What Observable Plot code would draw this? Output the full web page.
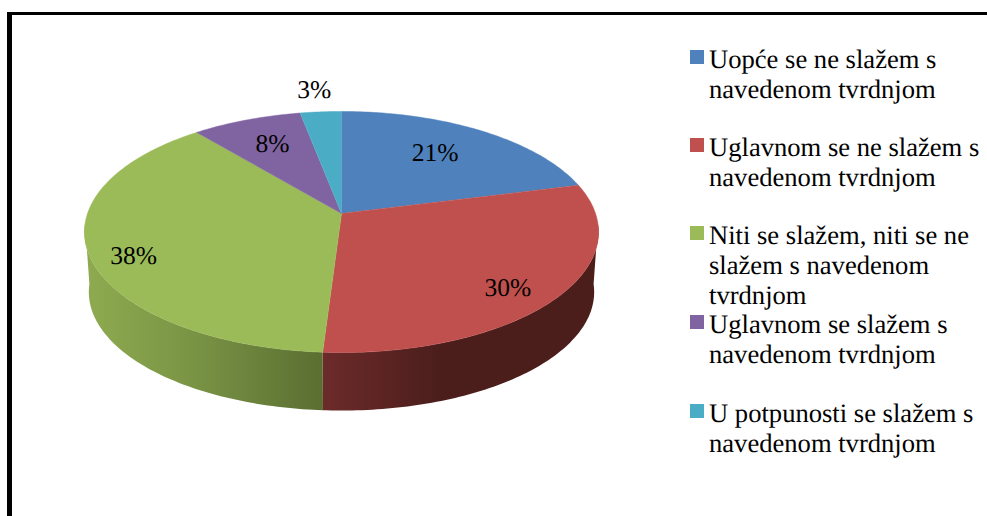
<!DOCTYPE html>
<html><head><meta charset="utf-8">
<script src="https://cdn.jsdelivr.net/npm/d3@7"></script>
<script src="https://cdn.jsdelivr.net/npm/@observablehq/plot@0.6"></script>
<style>
html,body{margin:0;padding:0;background:#fff;width:987px;height:516px;overflow:hidden;text-rendering:geometricPrecision}
#frame{position:absolute;left:7px;top:12px;right:0;bottom:0;border-top:3px solid #000;border-left:5px solid #000}
#chart{position:absolute;left:0;top:0}
.item{position:absolute;left:690px;font:26.6px/29.8px "Liberation Serif","Times New Roman",serif;color:#000;white-space:pre}
.item i{position:absolute;left:0;top:5px;width:14px;height:14px}
.item span{display:block;margin-left:19px}
</style></head><body>
<div id="chart"></div><div id="frame"></div>
<script>
// Data
const categories = ["Uopće se ne slažem s\nnavedenom tvrdnjom","Uglavnom se ne slažem s\nnavedenom tvrdnjom","Niti se slažem, niti se ne\nslažem s navedenom\ntvrdnjom","Uglavnom se slažem s\nnavedenom tvrdnjom","U potpunosti se slažem s\nnavedenom tvrdnjom"];
const values = [21,30,38,8,3];
const colors = ["#4f81bd","#c0504d","#9bbb59","#8064a2","#4bacc6"];

// Layout: tilted-disc perspective and label placement
const persp = 0.1535, baseScale = 0.983, baseDrop = 0.513;
const labelRadius = [0.69,0.83,0.846,0.72,1.262];
const labelAngle = [35.5,134,246.5,335.5,354.2];
const legendTop = [45,133,221,310,399];

const project = (deg,r=1) => {
  const t = deg*Math.PI/180, u = r*Math.sin(t), v = -r*Math.cos(t), s = 1/(1-persp*v);
  return {x:u*s, y:v*s};
};
const total = d3.sum(values);
const cum = d3.cumsum(values);
const slices = values.map((v,i)=>({name:categories[i],a0:(cum[i]-v)/total*360,a1:cum[i]/total*360}));

const topFace = slices.flatMap(s=>{
  const n = Math.ceil(s.a1-s.a0);
  return [{name:s.name,x:0,y:0},
    ...d3.range(n+1).map(k=>({name:s.name,...project(s.a0+(s.a1-s.a0)*k/n)}))];
});
const wall = (a0,a1)=>{
  const as = d3.range(a0,a1,1).concat(a1);
  const upper = as.map(a=>project(a));
  const lower = as.map(a=>{const p=project(a);return {x:p.x*baseScale,y:p.y*baseScale+baseDrop};}).reverse();
  return upper.concat(lower);
};
const split = slices[1].a1;

const defs = () => {
  const g = d3.create("svg:defs");
  const grad = (id,stops)=>{
    const lg = g.append("linearGradient").attr("id",id).attr("x1",0).attr("x2",1).attr("y1",0).attr("y2",0);
    stops.forEach(([o,c])=>lg.append("stop").attr("offset",o).attr("stop-color",c));
  };
  grad("wallRed",[[0,"#6c2b2a"],[0.42,"#4b1e1c"],[1,"#4b1e1c"]]);
  grad("wallGreen",[[0,"#8fab50"],[0.45,"#7a9445"],[1,"#5a6e31"]]);
  return g.node();
};

const cx=341, cy=213, rx=254, ry=117.7;
const plot = Plot.plot({
  width:987,height:516,margin:0,
  style:{background:"transparent",overflow:"visible"},
  x:{domain:[-1,1],range:[cx-rx,cx+rx],axis:null},
  y:{domain:[-1,1],range:[cy-ry,cy+ry],axis:null},
  color:{domain:categories,range:colors},
  marks:[
    defs,
    Plot.line(wall(95,split),{x:"x",y:"y",fill:"url(#wallRed)",stroke:"none"}),
    Plot.line(wall(split,265),{x:"x",y:"y",fill:"url(#wallGreen)",stroke:"none"}),
    Plot.line(topFace,{x:"x",y:"y",z:"name",fill:"name",stroke:"name",strokeWidth:0.5}),
    Plot.text(slices.map((s,i)=>({...project(labelAngle[i],labelRadius[i]),t:values[i]+"%"})),
      {x:"x",y:"y",text:"t",fontFamily:"Liberation Serif",fontSize:25.5,fill:"#000"})
  ]
});
document.getElementById("chart").append(plot);

categories.forEach((c,i)=>{
  const d=document.createElement("div");d.className="item";d.style.top=legendTop[i]+"px";
  const sw=document.createElement("i");sw.style.background=colors[i];
  const sp=document.createElement("span");sp.textContent=c;
  d.append(sw,sp);document.body.append(d);
});
</script></body></html>
